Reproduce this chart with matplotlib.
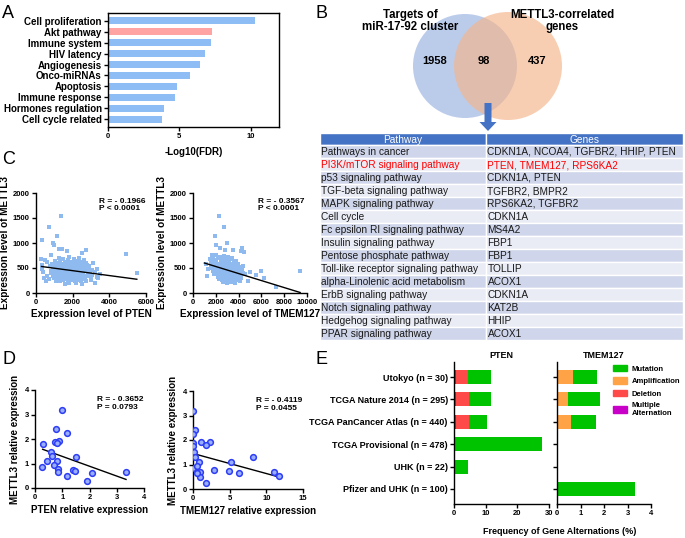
import matplotlib
matplotlib.use("Agg")
import matplotlib.pyplot as plt
import numpy as np
from matplotlib.patches import Circle, Rectangle, Patch

plt.rcParams["font.family"] = ["Liberation Sans", "DejaVu Sans"]
plt.rcParams["font.weight"] = "bold"
plt.rcParams["axes.labelweight"] = "bold"

# ── DATA ──────────────────────────────────────────────────────────────
# A: enrichment
terms = ["Cell proliferation", "Akt pathway", "Immune system", "HIV latency",
         "Angiogenesis", "Onco-miRNAs", "Apoptosis", "Immune response",
         "Hormones regulation", "Cell cycle related"]
log_fdr = [10.35, 7.28, 7.22, 6.8, 6.44, 5.74, 4.84, 4.67, 3.95, 3.81]
highlight = "Akt pathway"

# B: venn + pathway table
venn_labels = ["Targets of\nmiR-17-92 cluster", "METTL3-correlated\ngenes"]
venn_counts = [1958, 98, 437]
pathways = ["Pathways in cancer", "PI3K/mTOR signaling pathway", "p53 signaling pathway",
            "TGF-beta signaling pathway", "MAPK signaling pathway", "Cell cycle",
            "Fc epsilon RI signaling pathway", "Insulin signaling pathway",
            "Pentose phosphate pathway", "Toll-like receptor signaling pathway",
            "alpha-Linolenic acid metabolism", "ErbB signaling pathway",
            "Notch signaling pathway", "Hedgehog signaling pathway", "PPAR signaling pathway"]
genes = ["CDKN1A, NCOA4, TGFBR2, HHIP, PTEN", "PTEN, TMEM127, RPS6KA2", "CDKN1A, PTEN",
         "TGFBR2, BMPR2", "RPS6KA2, TGFBR2", "CDKN1A", "MS4A2", "FBP1", "FBP1", "TOLLIP",
         "ACOX1", "CDKN1A", "KAT2B", "HHIP", "ACOX1"]
red_row = "PI3K/mTOR signaling pathway"

# C: TCGA expression
pten_pts = [
    (1230,710),(1480,690),(1820,720),(2080,680),(2370,700),(2620,670),
    (1020,640),(1310,660),(1580,630),(1760,655),(1990,620),(2240,645),(2510,630),(2730,610),
    (880,590),(1120,605),(1390,585),(1560,610),(1710,575),(1930,600),(2110,580),(2290,615),
    (2560,590),(2790,570),(790,540),(1010,555),(1190,530),(1360,560),(1490,535),(1640,550),
    (1810,525),(1960,545),(2090,560),(2270,530),(2410,550),(2630,520),(2880,545),
    (910,495),(1060,510),(1240,480),(1410,505),(1540,490),(1690,470),(1860,500),(2010,485),
    (2160,510),(2310,475),(2440,495),(2660,505),(2840,480),(3080,470),
    (840,450),(990,435),(1160,460),(1290,440),(1460,455),(1610,430),(1740,465),(1910,445),
    (2040,420),(2210,450),(2360,435),(2490,460),(2710,440),(2960,430),(3210,415),
    (810,395),(960,410),(1090,380),(1260,400),(1390,415),(1560,385),(1710,405),(1840,390),
    (2010,410),(2140,375),(2310,395),(2460,420),(2590,385),(2810,400),(3060,370),
    (920,350),(1040,335),(1210,360),(1340,345),(1510,330),(1660,355),(1790,340),(1960,365),
    (2110,330),(2240,350),(2410,340),(2560,360),(2760,335),(3010,345),
    (960,300),(1140,310),(1310,290),(1440,305),(1610,285),(1760,300),(1890,315),(2060,290),
    (2190,305),(2360,280),(2510,300),(2690,290),
    (1090,250),(1310,240),(1490,260),(1720,235),(1880,255),(2120,245),(2290,260),(2480,235),
    (1750,430),(1850,460),(1950,420),(2050,470),(2150,440),(2250,415),(1800,380),(1900,350),
    (2000,390),(2100,420),(2200,370),(2300,450),(1700,500),(2400,410),(1600,400),(2500,380),
    (1650,520),(1880,570),(2180,540),(2350,490),(1450,480),(1550,340),(1980,310),(2280,320),
    (2600,450),(2700,520),(1350,420),(1150,520),(2050,640),(1700,610),(2400,600),(1900,270),
    (300,1060),(700,1320),(1150,1140),(1350,1540),(900,1010),(1000,960),(4900,780),(5500,400),
    (2750,860),(1400,880),(1250,880),(1700,850),(800,760),(2500,800),(3100,600),(3400,300),
    (3300,330),(3500,380),(2700,240),(300,560),(350,480),(400,420),(500,660),(600,620),
    (450,300),(600,340),(700,280),(550,250),(250,680),(3200,200),(3000,260),(2900,520),
    (3300,480),(1600,180),(2200,200),(1800,200),(2500,190),
]
tmem_pts = [
    (1720,740),(2050,760),(2380,720),(2700,750),(3050,730),(3400,700),
    (1580,690),(1890,670),(2210,700),(2490,660),(2810,685),(3120,650),(3460,675),(3800,640),
    (1540,620),(1770,600),(2040,630),(2310,590),(2560,615),(2830,600),(3090,620),(3340,585),
    (3610,610),(3980,580),(1620,560),(1850,545),(2120,570),(2370,535),(2610,555),(2880,540),
    (3150,565),(3410,530),(3680,550),(4020,525),(4350,540),
    (1680,500),(1930,485),(2190,510),(2440,490),(2690,475),(2940,505),(3210,480),(3460,500),
    (3730,470),(3990,490),(4300,465),
    (1750,440),(2010,455),(2260,425),(2520,445),(2770,430),(3020,450),(3290,420),(3540,440),
    (3800,415),(4090,435),(4420,410),
    (1830,390),(2080,375),(2340,400),(2590,380),(2850,395),(3100,370),(3360,390),(3620,365),
    (3880,385),(4170,360),(4560,380),
    (2160,330),(2410,345),(2670,320),(2930,340),(3190,315),(3440,335),(3700,310),(3960,330),
    (4240,305),(2300,280),(2560,265),(2820,285),(3080,260),(3340,275),(3600,255),(3870,270),
    (4100,250),(2600,220),(2950,205),(3300,225),(3650,200),
    (2600,480),(2800,520),(3000,400),(2700,360),(2900,450),(3200,500),(2500,420),(3300,450),
    (2400,550),(3100,300),(2750,580),(2200,470),(2050,520),(2350,460),(2650,410),(3450,400),
    (3550,480),(2950,560),(2450,380),(3150,430),(1950,600),(2850,640),
    (2300,1540),(2700,1310),(1900,1130),(3000,1010),(2000,960),(2400,900),(4300,910),
    (4500,830),(4200,850),(3500,870),(2800,860),(1700,770),(6000,440),(9400,450),(7300,130),
    (5500,360),(6200,300),(5000,430),(4800,250),(1100,580),(1300,480),(1500,680),(1200,350),
]
pten_fit = ([300, 5500], [530, 275])
tmem_fit = ([1000, 9400], [600, 10])
c_stats = ["R = - 0.1966\nP < 0.0001", "R = - 0.3567\nP < 0.0001"]

# D: qPCR
d_pten = [0.98, 0.77, 1.16, 0.31, 0.73, 0.89, 0.82, 0.59, 0.61, 1.49, 0.43, 0.82,
          0.70, 0.27, 0.84, 0.86, 1.38, 1.47, 1.16, 2.08, 1.92, 3.34]
d_mettl3_a = [3.18, 2.42, 2.23, 1.79, 1.88, 1.92, 1.82, 1.47, 1.31, 1.27, 1.09, 1.09,
              0.93, 0.86, 0.76, 0.66, 0.72, 0.68, 0.49, 0.63, 0.27, 0.67]
d_tmem = [0.0, 0.23, 0.05, 0.0, 0.0, 1.14, 2.38, 1.83, 0.09, 0.23, 0.82, 5.21, 8.14,
          0.0, 0.59, 2.83, 4.85, 6.22, 0.69, 0.91, 1.0, 1.83, 11.11, 11.66, 0.6]
d_mettl3_b = [3.17, 2.41, 2.23, 1.89, 1.77, 1.92, 1.93, 1.80, 1.50, 1.32, 1.10, 1.10, 1.29,
              0.87, 0.95, 0.79, 0.73, 0.67, 0.67, 0.68, 0.50, 0.26, 0.71, 0.52, 0.64]
d_pten_fit = ([0.28, 3.34], [1.58, 0.35])
d_tmem_fit = ([0.0, 11.6], [1.45, 0.5])
d_stats = ["R = - 0.3652\nP = 0.0793", "R = - 0.4119\nP = 0.0455"]

# E: cBioPortal alterations
cohorts = ["Utokyo (n = 30)", "TCGA Nature 2014 (n = 295)", "TCGA PanCancer Atlas (n = 440)",
           "TCGA Provisional (n = 478)", "UHK (n = 22)", "Pfizer and UHK (n = 100)"]
pten_multi = [0.7, 0.65, 0.65, 0, 0, 0]
pten_del = [3.6, 4.05, 4.05, 0, 0, 0]
pten_mut = [7.4, 7.1, 5.8, 27.8, 4.5, 0]
tmem_amp = [0.66, 0.45, 0.6, 0, 0, 0]
tmem_mut = [1.04, 1.37, 1.08, 0, 0, 3.32]
alt_names = ["Mutation", "Amplification", "Deletion", "Multiple\nAlternation"]
alt_colors = ["#00C300", "#FFA346", "#FF4A4A", "#C800C8"]

# ── FIGURE ────────────────────────────────────────────────────────────
W, H = 685, 538
fig = plt.figure(figsize=(W / 100, H / 100), dpi=100)


def box(l, t, r, b):
    return fig.add_axes([l / W, 1 - b / H, (r - l) / W, (b - t) / H])


def prism(ax, size=5.5):
    for s in ["top", "right"]:
        ax.spines[s].set_visible(False)
    for s in ["left", "bottom"]:
        ax.spines[s].set_linewidth(1)
    ax.tick_params(direction="out", length=3, width=1, labelsize=size, pad=1.5)
    for lab in ax.get_xticklabels() + ax.get_yticklabels():
        lab.set_fontweight("bold")


ov = fig.add_axes([0, 0, 1, 1])
ov.set_xlim(0, W)
ov.set_ylim(H, 0)
ov.axis("off")

for letter, (x, y) in zip("ABCDE", [(2, 13), (316, 13), (2, 160), (2, 360), (316, 360)]):
    ov.text(x, y, letter, fontsize=13, fontweight="normal", va="center", ha="left")

# ── A ─────────────────────────────────────────────────────────────────
axA = box(108, 13, 279, 127)
cols = ["#FFA3A3" if t == highlight else "#8EBDF6" for t in terms]
axA.barh(range(len(terms)), log_fdr, height=0.65, color=cols)
axA.set_ylim(len(terms) - 0.3, -0.7)
axA.set_xlim(0, 12)
axA.set_xticks([0, 5, 10])
axA.set_yticks(range(len(terms)))
axA.set_yticklabels(terms)
axA.tick_params(direction="out", length=3, width=1, labelsize=7, pad=1.5)
axA.tick_params(axis="x", labelsize=5.5)
for lab in axA.get_xticklabels() + axA.get_yticklabels():
    lab.set_fontweight("bold")
for s in axA.spines.values():
    s.set_linewidth(1)
axA.set_xlabel("-Log10(FDR)", fontsize=7, labelpad=5)

# ── B ─────────────────────────────────────────────────────────────────
ov.add_patch(Circle((465, 66), 52, color="#AFC3E8", alpha=0.85, lw=0))
ov.add_patch(Circle((508, 66), 54, color="#F5B48A", alpha=0.65, lw=0))
ov.text(410, 21, venn_labels[0], ha="center", va="center", fontsize=8.3, linespacing=1.05)
ov.text(562, 21, venn_labels[1], ha="center", va="center", fontsize=8.3, linespacing=1.05)
for x, n in zip([435, 484, 537], venn_counts):
    ov.text(x, 61, str(n), ha="center", va="center", fontsize=8)
ov.arrow(488, 103, 0, 28, width=7, head_width=17, head_length=9,
         length_includes_head=True, color="#4472C4", lw=0)

tx0, tmid, tx1, ty0, hh, rh = 320, 486, 683, 133, 12, 13
ov.add_patch(Rectangle((tx0, ty0), tmid - tx0, hh, facecolor="#4472C4", edgecolor="white", lw=1))
ov.add_patch(Rectangle((tmid, ty0), tx1 - tmid, hh, facecolor="#4472C4", edgecolor="white", lw=1))
ov.text((tx0 + tmid) / 2, ty0 + hh / 2 + 1, "Pathway", color="white", fontsize=7.3,
        fontweight="normal", ha="center", va="center")
ov.text((tmid + tx1) / 2, ty0 + hh / 2 + 1, "Genes", color="white", fontsize=7.3,
        fontweight="normal", ha="center", va="center")
for i, (pw, gn) in enumerate(zip(pathways, genes)):
    y = ty0 + hh + i * rh
    fc = "#CFD5EA" if i % 2 == 0 else "#E9EBF5"
    ov.add_patch(Rectangle((tx0, y), tmid - tx0, rh, facecolor=fc, edgecolor="white", lw=1))
    ov.add_patch(Rectangle((tmid, y), tx1 - tmid, rh, facecolor=fc, edgecolor="white", lw=1))
    tc = "#FF0000" if pw == red_row else "#1A1A1A"
    ov.text(tx0 + 1, y + rh / 2 + 0.5, pw, color=tc, fontsize=7.3, fontweight="normal",
            va="center", ha="left")
    ov.text(tmid + 1.5, y + rh / 2 + 0.5, gn, color=tc, fontsize=7.3, fontweight="normal",
            va="center", ha="left")

# ── C ─────────────────────────────────────────────────────────────────
for (l, r), pts, fit, xmax, xl, stat in [
        ((36, 146), pten_pts, pten_fit, 6000, "Expression level of PTEN", c_stats[0]),
        ((193, 307), tmem_pts, tmem_fit, 10000, "Expression level of TMEM127", c_stats[1])]:
    ax = box(l, 193, r, 293)
    px, py = zip(*pts)
    ax.scatter(px, py, s=5, marker="s", color="#8FBAF0", lw=0)
    ax.plot(fit[0], fit[1], color="black", lw=1)
    ax.set_xlim(0, xmax)
    ax.set_ylim(0, 2000)
    ax.set_xticks(np.arange(0, xmax + 1, 2000))
    ax.set_yticks([0, 500, 1000, 1500, 2000])
    prism(ax)
    ax.set_xlabel(xl, fontsize=7.2, labelpad=2)
    ax.set_ylabel("Expression level of METTL3", fontsize=7.2, labelpad=2)
    ax.text(0.57, 0.88, stat, transform=ax.transAxes, fontsize=6, va="center",
            ha="left", linespacing=1.1)

# ── D ─────────────────────────────────────────────────────────────────
for (l, t, r, b), xs, ys, fit, xmax, xt, xl, stat in [
        ((35, 390, 144, 488), d_pten, d_mettl3_a, d_pten_fit, 4, [0, 1, 2, 3, 4],
         "PTEN relative expression", d_stats[0]),
        ((193, 391, 303, 489), d_tmem, d_mettl3_b, d_tmem_fit, 15, [0, 5, 10, 15],
         "TMEM127 relative expression", d_stats[1])]:
    ax = box(l, t, r, b)
    ax.scatter(xs, ys, s=17, facecolor="#9AAEFF", edgecolor="#2C3DF5", lw=1.1, zorder=3)
    ax.plot(fit[0], fit[1], color="black", lw=1, zorder=2)
    ax.set_xlim(0, xmax)
    ax.set_ylim(0, 4)
    ax.set_xticks(xt)
    ax.set_yticks([0, 1, 2, 3, 4])
    prism(ax)
    ax.set_xlabel(xl, fontsize=7, labelpad=3)
    ax.set_ylabel("METTL3 relative expression", fontsize=7, labelpad=3)
    ax.text(0.57, 0.86, stat, transform=ax.transAxes, fontsize=6, va="center",
            ha="left", linespacing=1.1)

# ── E ─────────────────────────────────────────────────────────────────
yy = np.arange(len(cohorts))
axP = box(454, 362, 549, 504)
left = np.zeros(len(cohorts))
for vals, c in [(pten_multi, alt_colors[3]), (pten_del, alt_colors[2]), (pten_mut, alt_colors[0])]:
    axP.barh(yy, vals, left=left, height=0.62, color=c)
    left += np.array(vals)
axP.set_xlim(0, 30)
axP.set_xticks([0, 10, 20, 30])
axP.set_ylim(len(cohorts) - 0.33, -0.67)
axP.set_yticks(yy)
axP.set_yticklabels(cohorts)
prism(axP)
axP.tick_params(axis="y", labelsize=6.5)
axP.set_title("PTEN", fontsize=6.5, fontweight="bold", pad=3)

axT = box(557, 362, 651, 504)
left = np.zeros(len(cohorts))
for vals, c in [(tmem_amp, alt_colors[1]), (tmem_mut, alt_colors[0])]:
    axT.barh(yy, vals, left=left, height=0.62, color=c)
    left += np.array(vals)
axT.set_xlim(0, 4)
axT.set_xticks([0, 1, 2, 3, 4])
axT.set_ylim(len(cohorts) - 0.33, -0.67)
axT.set_yticks(yy)
axT.set_yticklabels([])
prism(axT)
axT.set_title("TMEM127", fontsize=6.5, fontweight="bold", pad=3)

handles = [Patch(color=c, label=n) for c, n in zip(alt_colors, alt_names)]
fig.legend(handles=handles, loc="upper left", bbox_to_anchor=(610 / W, 1 - 362 / H),
           frameon=False, fontsize=5.5, handlelength=1.8, handleheight=0.9,
           labelspacing=0.6, handletextpad=0.6, borderaxespad=0)
ov.text(560, 532, "Frequency of Gene Alternations (%)", fontsize=6.5, ha="center", va="center")

fig.savefig("out.png", dpi=100)
